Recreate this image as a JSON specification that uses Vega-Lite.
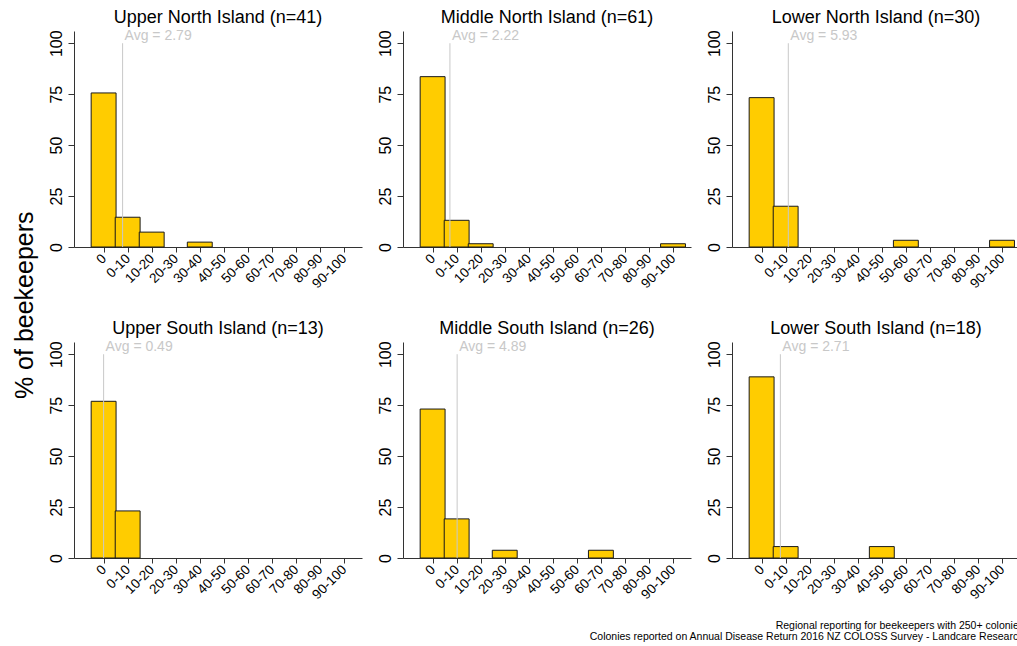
{
  "$schema": "https://vega.github.io/schema/vega-lite/v6.json",
  "background": "white",
  "padding": {"left": 12, "top": 9, "right": 0, "bottom": 0},
  "title": {
    "text": ["Regional reporting for beekeepers with 250+ colonies", "Colonies reported on Annual Disease Return 2016 NZ COLOSS Survey - Landcare Research"],
    "orient": "bottom", "anchor": "end", "fontSize": 10.5, "fontWeight": "normal", "font": "Liberation Sans",
    "color": "#000000", "lineHeight": 10.5, "offset": 20, "dx": 4
  },
  "vconcat": [
    {
      "title": {"text": "% of beekeepers", "orient": "left", "anchor": "middle", "fontSize": 25, "fontWeight": "normal", "font": "Liberation Sans", "color": "#000000", "offset": 10},
      "data": {"values": [
        {"kind": "bar", "region": "Upper North Island (n=41)", "loss_class": "0", "loss_upper": 0, "pct": 75.6},
        {"kind": "bar", "region": "Upper North Island (n=41)", "loss_class": "0-10", "loss_upper": 10, "pct": 14.6},
        {"kind": "bar", "region": "Upper North Island (n=41)", "loss_class": "10-20", "loss_upper": 20, "pct": 7.3},
        {"kind": "bar", "region": "Upper North Island (n=41)", "loss_class": "30-40", "loss_upper": 40, "pct": 2.4},
        {"kind": "bar", "region": "Middle North Island (n=61)", "loss_class": "0", "loss_upper": 0, "pct": 83.6},
        {"kind": "bar", "region": "Middle North Island (n=61)", "loss_class": "0-10", "loss_upper": 10, "pct": 13.1},
        {"kind": "bar", "region": "Middle North Island (n=61)", "loss_class": "10-20", "loss_upper": 20, "pct": 1.6},
        {"kind": "bar", "region": "Middle North Island (n=61)", "loss_class": "90-100", "loss_upper": 100, "pct": 1.6},
        {"kind": "bar", "region": "Lower North Island (n=30)", "loss_class": "0", "loss_upper": 0, "pct": 73.3},
        {"kind": "bar", "region": "Lower North Island (n=30)", "loss_class": "0-10", "loss_upper": 10, "pct": 20.0},
        {"kind": "bar", "region": "Lower North Island (n=30)", "loss_class": "50-60", "loss_upper": 60, "pct": 3.3},
        {"kind": "bar", "region": "Lower North Island (n=30)", "loss_class": "90-100", "loss_upper": 100, "pct": 3.3},
        {"kind": "bar", "region": "Upper South Island (n=13)", "loss_class": "0", "loss_upper": 0, "pct": 76.9},
        {"kind": "bar", "region": "Upper South Island (n=13)", "loss_class": "0-10", "loss_upper": 10, "pct": 23.1},
        {"kind": "bar", "region": "Middle South Island (n=26)", "loss_class": "0", "loss_upper": 0, "pct": 73.1},
        {"kind": "bar", "region": "Middle South Island (n=26)", "loss_class": "0-10", "loss_upper": 10, "pct": 19.2},
        {"kind": "bar", "region": "Middle South Island (n=26)", "loss_class": "20-30", "loss_upper": 30, "pct": 3.8},
        {"kind": "bar", "region": "Middle South Island (n=26)", "loss_class": "60-70", "loss_upper": 70, "pct": 3.8},
        {"kind": "bar", "region": "Lower South Island (n=18)", "loss_class": "0", "loss_upper": 0, "pct": 88.9},
        {"kind": "bar", "region": "Lower South Island (n=18)", "loss_class": "0-10", "loss_upper": 10, "pct": 5.6},
        {"kind": "bar", "region": "Lower South Island (n=18)", "loss_class": "40-50", "loss_upper": 50, "pct": 5.6},
        {"kind": "avg", "region": "Upper North Island (n=41)", "avg": 2.79, "avg_x": 7.9},
        {"kind": "avg", "region": "Middle North Island (n=61)", "avg": 2.22, "avg_x": 7.2},
        {"kind": "avg", "region": "Lower North Island (n=30)", "avg": 5.93, "avg_x": 11.1},
        {"kind": "avg", "region": "Upper South Island (n=13)", "avg": 0.49, "avg_x": 0.0},
        {"kind": "avg", "region": "Middle South Island (n=26)", "avg": 4.89, "avg_x": 10.2},
        {"kind": "avg", "region": "Lower South Island (n=18)", "avg": 2.71, "avg_x": 7.8}
      ]},
      "facet": {
        "field": "region", "type": "nominal",
        "sort": ["Upper North Island (n=41)", "Middle North Island (n=61)", "Lower North Island (n=30)", "Upper South Island (n=13)", "Middle South Island (n=26)", "Lower South Island (n=18)"],
        "header": {"title": null, "labelFontSize": 18, "labelFont": "Liberation Sans", "labelColor": "#000000", "labelPadding": 2}
      },
      "columns": 3,
      "spacing": {"column": 14, "row": 29},
      "resolve": {"axis": {"x": "independent", "y": "independent"}},
      "spec": {
        "width": 288,
        "height": 216,
        "layer": [
          {
            "transform": [{"filter": "datum.kind == 'bar'"}],
            "mark": {"type": "bar", "width": 24.9, "fill": "#FFCC00", "stroke": "#1a1a1a", "strokeWidth": 1},
            "encoding": {
              "x": {"field": "loss_upper", "type": "quantitative",
                "scale": {"domain": [-10.24, 105.4], "nice": false, "zero": false},
                "axis": {"title": null, "values": [0, 10, 20, 30, 40, 50, 60, 70, 80, 90, 100],
                  "labelExpr": "datum.value == 0 ? '0' : (datum.value - 10) + '-' + datum.value",
                  "labelAngle": -45, "labelAlign": "right", "labelBaseline": "middle", "labelFontSize": 13.5,
                  "labelPadding": 4, "tickSize": 5, "labelOverlap": false, "labelFlush": false, "labelBound": false,
                  "grid": false, "domainColor": "#333333", "tickColor": "#333333", "labelColor": "#000000", "labelFont": "Liberation Sans"}},
              "y": {"field": "pct", "type": "quantitative",
                "scale": {"domain": [0, 106], "nice": false},
                "axis": {"title": null, "values": [0, 25, 50, 75, 100], "labelAngle": -90, "labelAlign": "center", "labelBaseline": "bottom",
                  "labelFontSize": 16, "labelPadding": 4, "tickSize": 6, "grid": false, "domainColor": "#333333", "tickColor": "#333333", "labelColor": "#000000", "labelFont": "Liberation Sans"}}
            }
          },
          {
            "transform": [{"filter": "datum.kind == 'avg'"}],
            "mark": {"type": "rule", "color": "#C8C8C8", "strokeWidth": 1},
            "encoding": {
              "x": {"field": "avg_x", "type": "quantitative",
                "scale": {"domain": [-10.24, 105.4], "nice": false, "zero": false},
                "axis": {"title": null, "values": [0, 10, 20, 30, 40, 50, 60, 70, 80, 90, 100],
                  "labelExpr": "datum.value == 0 ? '0' : (datum.value - 10) + '-' + datum.value",
                  "labelAngle": -45, "labelAlign": "right", "labelBaseline": "middle", "labelFontSize": 13.5,
                  "labelPadding": 4, "tickSize": 5, "labelOverlap": false, "labelFlush": false, "labelBound": false,
                  "grid": false, "domainColor": "#333333", "tickColor": "#333333", "labelColor": "#000000", "labelFont": "Liberation Sans"}},
              "y": {"datum": 0},
              "y2": {"datum": 100}
            }
          },
          {
            "transform": [{"filter": "datum.kind == 'avg'"}, {"calculate": "'Avg = ' + format(datum.avg, '.2f')", "as": "avg_label"}],
            "mark": {"type": "text", "align": "left", "baseline": "bottom", "dx": 2, "fontSize": 14, "color": "#C8C8C8", "font": "Liberation Sans"},
            "encoding": {
              "x": {"field": "avg_x", "type": "quantitative",
                "scale": {"domain": [-10.24, 105.4], "nice": false, "zero": false},
                "axis": {"title": null, "values": [0, 10, 20, 30, 40, 50, 60, 70, 80, 90, 100],
                  "labelExpr": "datum.value == 0 ? '0' : (datum.value - 10) + '-' + datum.value",
                  "labelAngle": -45, "labelAlign": "right", "labelBaseline": "middle", "labelFontSize": 13.5,
                  "labelPadding": 4, "tickSize": 5, "labelOverlap": false, "labelFlush": false, "labelBound": false,
                  "grid": false, "domainColor": "#333333", "tickColor": "#333333", "labelColor": "#000000", "labelFont": "Liberation Sans"}},
              "y": {"datum": 100},
              "text": {"field": "avg_label"}
            }
          }
        ]
      }
    }
  ],
  "config": {"view": {"stroke": null}, "font": "Liberation Sans"}
}
